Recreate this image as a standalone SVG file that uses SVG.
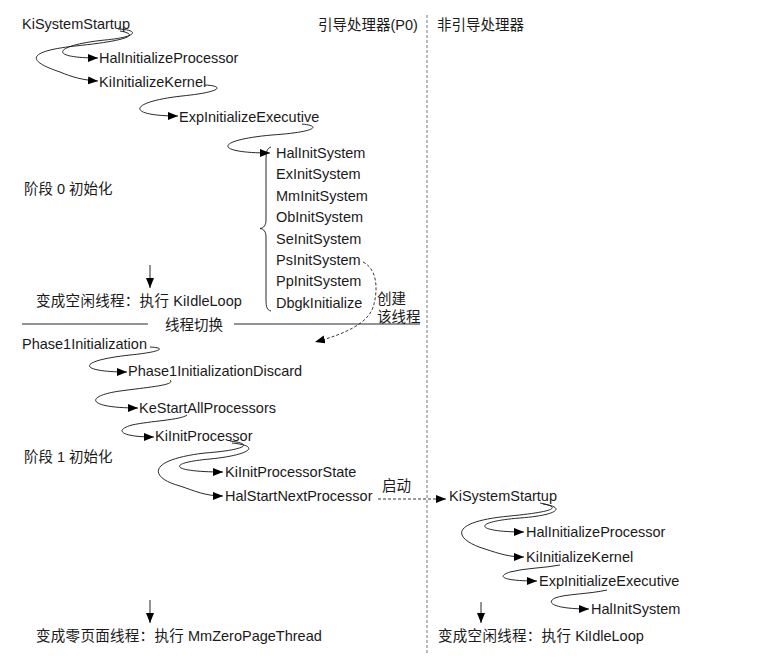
<svg xmlns="http://www.w3.org/2000/svg" width="757" height="664" viewBox="0 0 757 664">
<defs>
<marker id="ah" markerUnits="userSpaceOnUse" markerWidth="11" markerHeight="9" refX="10" refY="4" orient="auto" viewBox="0 0 11 9">
<path d="M0,0 L10,4 L0,8 z" fill="#000"/>
</marker>
</defs>
<style>
text{font-family:"Liberation Sans","Noto Sans CJK SC",sans-serif;font-size:14.5px;fill:#1a1a1a}
.cj{letter-spacing:0.3px}
.ln{fill:none;stroke:#111;stroke-width:0.9}
.arr{fill:none;stroke:#111;stroke-width:0.9;marker-end:url(#ah)}
.dash{fill:none;stroke:#222;stroke-width:0.9;stroke-dasharray:3,2;marker-end:url(#ah)}
.sep{fill:none;stroke:#666;stroke-width:0.9;stroke-dasharray:3,2}
</style>
<rect width="757" height="664" fill="#fff"/>
<g id="headers">
<text x="318" y="30">引导处理器(P0)</text>
<text x="437" y="30">非引导处理器</text>
</g>
<g id="separators">
<line class="sep" x1="427" y1="15" x2="427" y2="655"/>
<line class="ln" x1="22" y1="324" x2="148" y2="324"/>
<line class="ln" x1="234" y1="324" x2="420" y2="324"/>
<text id="switch" x="165" y="330">线程切换</text>
</g>
<g id="n-kisystemstartup"><text x="22" y="29">KiSystemStartup</text></g>
<g id="n-halinitializeprocessor"><text x="99" y="63">HalInitializeProcessor</text></g>
<g id="n-kiinitializekernel"><text x="99" y="87">KiInitializeKernel</text></g>
<g id="n-expinitializeexecutive"><text x="179" y="122">ExpInitializeExecutive</text></g>
<g id="n-initlist">
<text x="276" y="158">HalInitSystem</text>
<text x="276" y="179.4">ExInitSystem</text>
<text x="276" y="200.8">MmInitSystem</text>
<text x="276" y="222.2">ObInitSystem</text>
<text x="276" y="243.6">SeInitSystem</text>
<text x="276" y="265">PsInitSystem</text>
<text x="276" y="286.4">PpInitSystem</text>
<text x="276" y="307.8">DbgkInitialize</text>
<path class="ln" d="M271,147 C267,148 266,152 266,160 L266,220 C266,225 264,228 260,228.5 C264,229 266,232 266,237 L266,300 C266,307 267,310 271,311"/>
</g>
<g id="n-phase0"><text x="24" y="194">阶段 0 初始化</text></g>
<g id="n-idle1"><text x="36" y="306"><tspan class="cj">变成空闲线程：执行</tspan> KiIdleLoop</text></g>
<g id="n-create"><text x="377" y="304">创建</text><text x="377" y="322">该线程</text></g>
<g id="n-phase1initialization"><text x="22" y="349">Phase1Initialization</text></g>
<g id="n-phase1discard"><text x="128" y="376">Phase1InitializationDiscard</text></g>
<g id="n-kestartallprocessors"><text x="139" y="413">KeStartAllProcessors</text></g>
<g id="n-kiinitprocessor"><text x="155" y="441">KiInitProcessor</text></g>
<g id="n-phase1"><text x="24" y="462">阶段 1 初始化</text></g>
<g id="n-kiinitprocessorstate"><text x="225" y="477">KiInitProcessorState</text></g>
<g id="n-halstartnextprocessor"><text x="225" y="501">HalStartNextProcessor</text></g>
<g id="n-start"><text x="382" y="491">启动</text></g>
<g id="n-zeropage"><text x="36" y="641"><tspan class="cj">变成零页面线程：执行</tspan> MmZeroPageThread</text></g>
<g id="r-kisystemstartup"><text x="449" y="501">KiSystemStartup</text></g>
<g id="r-halinitializeprocessor"><text x="526" y="537">HalInitializeProcessor</text></g>
<g id="r-kiinitializekernel"><text x="526" y="562">KiInitializeKernel</text></g>
<g id="r-expinitializeexecutive"><text x="539" y="586">ExpInitializeExecutive</text></g>
<g id="r-halinitsystem"><text x="591" y="614">HalInitSystem</text></g>
<g id="r-idle"><text x="438" y="641"><tspan class="cj">变成空闲线程：执行</tspan> KiIdleLoop</text></g>
<g id="connectors">
<path class="arr" d="M118,29 C140,30 138,37 105,40 C55,45 45,58 98,58"/>
<path class="arr" d="M120,31 C142,35 125,41 75,46 C22,52 30,62 60,72 C72,77 82,80 98,81"/>
<path class="arr" d="M205,85 C225,86 222,92 182,96 C128,102 125,116 178,116"/>
<path class="arr" d="M302,124 C322,126 316,132 272,135 C215,140 212,153 270,153"/>
<line class="arr" x1="150" y1="265" x2="150" y2="288"/>
<path class="dash" d="M363,262 C377,269 378,288 374,304 C370,323 345,334 315,342"/>
<path class="arr" d="M150,347 C168,348 160,352 130,355 C75,361 78,372 127,372"/>
<path class="arr" d="M170,380 C176,385 150,387 120,391 C85,396 85,408 138,408"/>
<path class="arr" d="M187,415 C181,420 150,421 132,425 C114,430 120,437 154,437"/>
<path class="arr" d="M232,443 C262,446 250,455 210,459 C165,463 170,472 223,472"/>
<path class="arr" d="M230,441 C255,444 245,450 205,453 C145,460 150,478 180,486 C195,491 205,496 223,496"/>
<path class="dash" d="M378,499 L446,499"/>
<path class="arr" d="M543,504 C565,507 560,515 520,518 C470,522 475,532 524,532"/>
<path class="arr" d="M540,503 C565,508 550,512 510,516 C445,522 455,540 485,549 C500,554 510,557 524,557"/>
<path class="arr" d="M560,565 C545,568 525,568 510,572 C495,577 505,581 537,581"/>
<path class="arr" d="M607,590 C590,594 565,594 555,598 C545,603 555,609 589,609"/>
<line class="arr" x1="481" y1="602" x2="481" y2="623"/>
<line class="arr" x1="150" y1="600" x2="150" y2="623"/>
</g>
</svg>
